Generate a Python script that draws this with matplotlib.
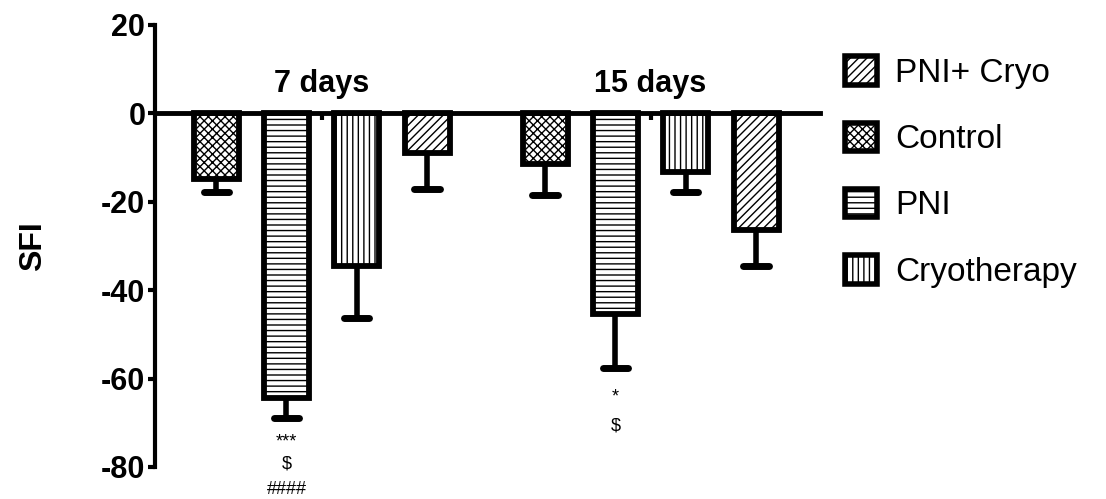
import matplotlib.pyplot as plt
import matplotlib.patches as mpatches
import numpy as np

plt.rcParams['font.family'] = ['Liberation Sans', 'DejaVu Sans']
plt.rcParams['hatch.linewidth'] = 1.0
plt.rcParams['axes.unicode_minus'] = False

# groups and treatments (bar order inside each group)
days = ['7 days', '15 days']
groups = ['Control', 'PNI', 'Cryotherapy', 'PNI+ Cryo']
hatches = ['xxxx', '---', '|||', '////']

# mean SFI and SD (lower error only)
means = {
    'Control':     [-14.9, -11.5],
    'PNI':         [-64.4, -45.3],
    'Cryotherapy': [-34.5, -13.3],
    'PNI+ Cryo':   [-9.0, -26.4],
}
errs = {
    'Control':     [2.9, 7.0],
    'PNI':         [4.6, 12.4],
    'Cryotherapy': [11.9, 4.5],
    'PNI+ Cryo':   [8.0, 8.1],
}

# significance marks under the PNI bars
sig_7 = ['***', '$', '####']
sig_15 = ['*', '$']

legend_order = ['PNI+ Cryo', 'Control', 'PNI', 'Cryotherapy']

fig = plt.figure(figsize=(11.06, 4.99), dpi=100)
ax = fig.add_axes([155 / 1106, 1 - 467 / 499, 665 / 1106, 442 / 499])

centers = np.array([2.37, 7.05])
offsets = np.array([-1.5, -0.5, 0.5, 1.5])
width = 0.64
lw = 4.2

for gi, g in enumerate(groups):
    xs = centers + offsets[gi]
    m = np.array(means[g])
    e = np.array(errs[g])
    # error stems and caps below the bars
    for x, v, d in zip(xs, m, e):
        ax.plot([x, x], [v, v - d], color='black', lw=4, solid_capstyle='butt', zorder=1)
        ax.plot([x - 0.18, x + 0.18], [v - d, v - d], color='black', lw=5,
                solid_capstyle='round', zorder=1)
    ax.bar(xs, m, width, facecolor='white', edgecolor='black', linewidth=lw,
           hatch=hatches[gi], zorder=2)

ax.set_xlim(0, 9.46)
ax.set_ylim(-80, 20)
ax.set_yticks([20, 0, -20, -40, -60, -80])
ax.set_xticks(centers)
ax.set_xticklabels([])

for side in ['top', 'right']:
    ax.spines[side].set_visible(False)
ax.spines['bottom'].set_position(('data', 0))
ax.spines['bottom'].set_linewidth(3.5)
ax.spines['bottom'].set_zorder(3)
ax.spines['left'].set_linewidth(3.0)
ax.tick_params(axis='y', length=5, width=3, pad=2, labelsize=22)
ax.tick_params(axis='x', length=5, width=3)
for lab in ax.get_yticklabels():
    lab.set_fontweight('bold')

ax.set_ylabel('SFI', fontsize=23, fontweight='bold', labelpad=38)

for c, d in zip(centers, days):
    ax.text(c, 3.2, d, ha='center', va='bottom', fontsize=22, fontweight='bold')

# significance labels
pni_7 = centers[0] + offsets[1]
pni_15 = centers[1] + offsets[1]
for t, y in zip(sig_7, [-75.3, -80.4, -86.0]):
    ax.text(pni_7, y, t, ha='center', va='baseline', fontsize=13, clip_on=False)
for t, y in zip(sig_15, [-65.1, -71.8]):
    ax.text(pni_15, y, t, ha='center', va='baseline', fontsize=13)

handles = [mpatches.Patch(facecolor='white', edgecolor='black', linewidth=4,
                          hatch=hatches[groups.index(g)], label=g)
           for g in legend_order]
fig.legend(handles=handles, loc='upper left', bbox_to_anchor=(832 / 1106, 1 - 43 / 499),
           frameon=False, fontsize=24, handlelength=0.95, handleheight=0.95,
           labelspacing=1.0, handletextpad=0.55, borderaxespad=0)

fig.savefig('out.png', dpi=100)
